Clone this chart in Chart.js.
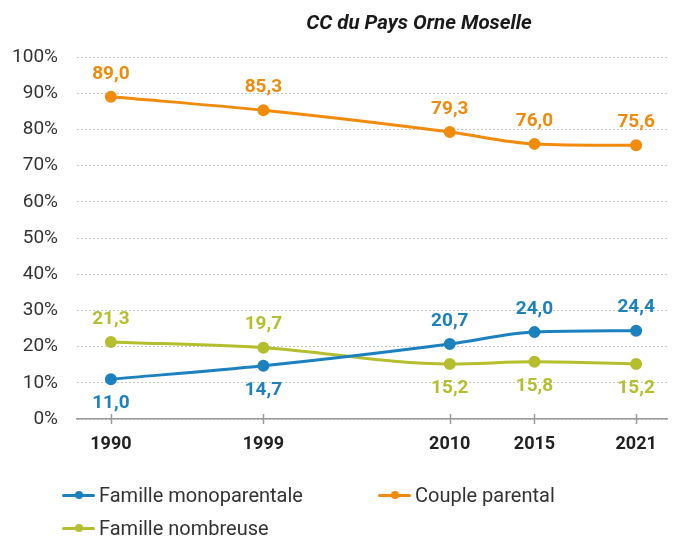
<!DOCTYPE html>
<html>
<head>
<meta charset="utf-8">
<script src="https://cdn.jsdelivr.net/npm/chart.js@4"></script>
<style>
  html, body { margin: 0; padding: 0; background: #fff; }
  #wrap { position: relative; width: 675px; height: 536px; overflow: hidden; }
  #c { position: absolute; left: 0; top: 0; }
  .leg { position: absolute; font-family: Roboto, sans-serif; font-size: 20px; color: #333; display: flex; align-items: center; height: 24px; white-space: nowrap; }
  .mk { position: relative; width: 33px; height: 24px; margin-right: 4px; }
  .mk .ln { position: absolute; left: 0; right: 0; top: 10.5px; height: 3px; border-radius: 2px; }
  .mk .dt { position: absolute; left: 12.5px; top: 8px; width: 8px; height: 8px; border-radius: 50%; }
</style>
</head>
<body>
<div id="wrap">
  <canvas id="c" width="675" height="536"></canvas>
  <div id="legend"></div>
</div>
<script>
const title = 'CC du Pays Orne Moselle';
const years = [1990, 1999, 2010, 2015, 2021];
const seriesNames = ['Famille monoparentale', 'Couple parental', 'Famille nombreuse'];
const monoparentale = [11.0, 14.7, 20.7, 24.0, 24.4];
const coupleParental = [89.0, 85.3, 79.3, 76.0, 75.6];
const nombreuse = [21.3, 19.7, 15.2, 15.8, 15.2];
const yTicks = [0, 10, 20, 30, 40, 50, 60, 70, 80, 90, 100];

const BLUE = '#1C81BF', ORANGE = '#F18B0B', GREEN = '#B5BF2E';
const FONT = 'Roboto, sans-serif';

function pts(vals) { return years.map((y, i) => ({ x: y, y: vals[i] })); }

const datasets = [
  { label: seriesNames[0], data: pts(monoparentale), color: BLUE, side: ['below','below','above','above','above'] },
  { label: seriesNames[1], data: pts(coupleParental), color: ORANGE, side: ['above','above','above','above','above'] },
  { label: seriesNames[2], data: pts(nombreuse), color: GREEN, side: ['above','above','below','below','below'] }
].map(d => ({
  label: d.label, data: d.data, side: d.side,
  borderColor: d.color, backgroundColor: d.color,
  pointBackgroundColor: d.color, pointBorderColor: d.color,
  borderWidth: 3, pointRadius: 4.5, pointHoverRadius: 4.5,
  cubicInterpolationMode: 'monotone', fill: false
}));

const labelsPlugin = {
  id: 'valueLabels',
  afterDatasetsDraw(chart) {
    const ctx = chart.ctx;
    ctx.save();
    ctx.font = 'bold 19px ' + FONT;
    ctx.textAlign = 'center';
    ctx.textBaseline = 'middle';
    chart.data.datasets.forEach((ds, di) => {
      const meta = chart.getDatasetMeta(di);
      ctx.fillStyle = ds.borderColor;
      meta.data.forEach((p, i) => {
        const v = ds.data[i].y;
        const off = ds.side[i] === 'above' ? -23 : 24;
        ctx.fillText(v.toFixed(1).replace('.', ','), p.x, p.y + off);
      });
    });
    ctx.restore();
  }
};

const extrasPlugin = {
  id: 'extras',
  afterDraw(chart) {
    const ctx = chart.ctx;
    const xs = chart.scales.x;
    const bottom = chart.chartArea.bottom;
    ctx.save();
    ctx.strokeStyle = '#9a9a9a';
    ctx.lineWidth = 1.5;
    years.forEach(y => {
      const px = Math.round(xs.getPixelForValue(y)) + 0.5;
      ctx.beginPath();
      ctx.moveTo(px, bottom - 5);
      ctx.lineTo(px, bottom + 5);
      ctx.stroke();
    });
    ctx.fillStyle = '#1a1a1a';
    ctx.font = 'italic bold 20.5px ' + FONT;
    ctx.textAlign = 'center';
    ctx.textBaseline = 'alphabetic';
    ctx.fillText(title, 419, 29);
    ctx.restore();
  }
};

new Chart(document.getElementById('c'), {
  type: 'line',
  data: { datasets },
  options: {
    responsive: false,
    animation: false,
    events: [],
    layout: { padding: { top: 57, right: 0, left: 0, bottom: 0 } },
    plugins: { legend: { display: false }, tooltip: { enabled: false }, title: { display: false } },
    scales: {
      x: {
        type: 'linear', min: 1988, max: 2022.85,
        afterBuildTicks(s) { s.ticks = years.map(v => ({ value: v })); },
        afterFit(s) { s.height = 117; },
        grid: { display: false, drawTicks: false },
        border: { display: true, color: '#9a9a9a', width: 1.5 },
        ticks: { callback: v => String(v), font: { family: FONT, size: 18, weight: 'bold' }, color: '#222', padding: 15, maxRotation: 0, autoSkip: false }
      },
      y: {
        min: 0, max: 100,
        afterBuildTicks(s) { s.ticks = yTicks.map(v => ({ value: v })); },
        afterFit(s) { s.width = 77; },
        grid: { color: '#c8c8c8', lineWidth: 1, drawTicks: false },
        border: { display: false, dash: [2, 2] },
        ticks: { callback: v => v + '%', font: { family: FONT, size: 19 }, color: '#333', padding: 19 }
      }
    }
  },
  plugins: [labelsPlugin, extrasPlugin]
});

// HTML legend
const legendPos = [[62, 483], [378, 483], [62, 516]];
const legEl = document.getElementById('legend');
datasets.forEach((ds, i) => {
  const d = document.createElement('div');
  d.className = 'leg';
  d.style.left = legendPos[i][0] + 'px';
  d.style.top = legendPos[i][1] + 'px';
  d.innerHTML = '<span class="mk"><span class="ln" style="background:' + ds.borderColor + '"></span><span class="dt" style="background:' + ds.borderColor + '"></span></span>';
  const t = document.createElement('span');
  t.textContent = ds.label;
  d.appendChild(t);
  legEl.appendChild(d);
});
</script>
</body>
</html>
